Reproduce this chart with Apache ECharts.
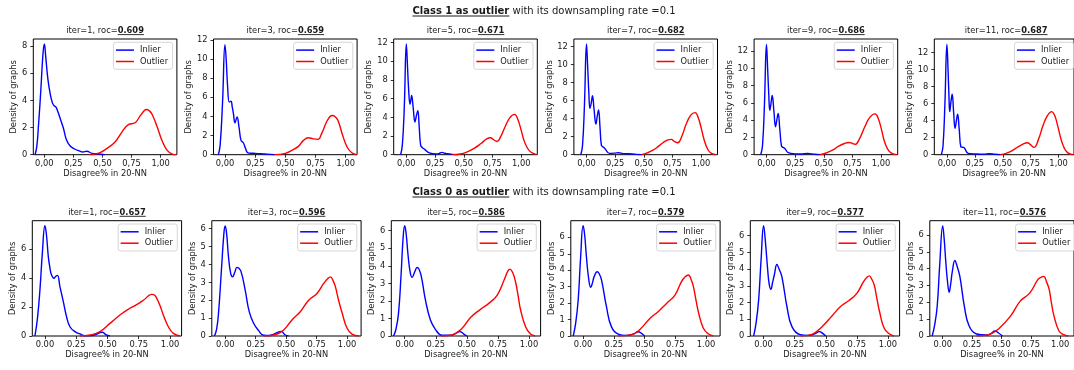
<!DOCTYPE html>
<html><head><meta charset="utf-8">
<script src="https://cdn.jsdelivr.net/npm/echarts@6/dist/echarts.min.js"></script>
<style>html,body{margin:0;padding:0;background:#fff}#c{width:1074px;height:370px}</style>
</head><body><div id="c"></div>
<script>
// ---------------- DATA ----------------
const iters = [1, 3, 5, 7, 9, 11];
const rocTop = ['0.609', '0.659', '0.671', '0.682', '0.686', '0.687'];
const rocBot = ['0.657', '0.596', '0.586', '0.579', '0.577', '0.576'];
const seriesNames = ['Inlier', 'Outlier'];
const xTicks = [0, 0.25, 0.5, 0.75, 1];
const yTicksTop = [[0,2,4,6,8],[0,2,4,6,8,10,12],[0,2,4,6,8,10,12],[0,2,4,6,8,10,12],[0,2,4,6,8,10,12],[0,2,4,6,8,10,12]];
const yTicksBot = [[0,2,4,6],[0,1,2,3,4,5,6],[0,1,2,3,4,5,6],[0,1,2,3,4,5,6],[0,1,2,3,4,5,6],[0,1,2,3,4,5,6]];
const xLimTop = [[-0.095,1.14],[-0.095,1.094],[-0.11,1.14],[-0.11,1.143],[-0.108,1.145],[-0.113,1.138]];
const xLimBot = [[-0.101,1.093],[-0.11,1.115],[-0.108,1.094],[-0.1,1.114],[-0.107,1.094],[-0.11,1.118]];
const yMaxTop = [8.52, 12.1, 12.39, 12.85, 13.4, 13.6];
const yMaxBot = [7.95, 6.45, 6.57, 7.01, 6.9, 6.85];

// Class 1 as outlier (top row)
const T1_in = [[-0.08,0],[-0.065,0.6],[-0.05,2.2],[-0.03,4.8],[-0.012,7.4],[0,8.15],[0.012,7.2],[0.03,5.6],[0.05,4.5],[0.07,3.8],[0.085,3.6],[0.1,3.5],[0.115,3.2],[0.135,2.7],[0.164,1.95],[0.19,1.1],[0.22,0.66],[0.26,0.42],[0.3,0.28],[0.33,0.2],[0.365,0.25],[0.41,0.1],[0.46,0.06],[0.52,0]];
const T1_out = [[0.39,0],[0.44,0.06],[0.48,0.15],[0.54,0.47],[0.61,0.96],[0.67,1.7],[0.72,2.2],[0.78,2.35],[0.82,2.8],[0.86,3.25],[0.88,3.33],[0.9,3.25],[0.925,3.0],[0.97,2.06],[1.01,1.08],[1.055,0.34],[1.1,0.05],[1.135,0]];
const T2_in = [[-0.055,0],[-0.04,1.0],[-0.02,5.5],[0,11.5],[0.01,10.0],[0.022,7.1],[0.036,5.5],[0.05,5.6],[0.06,5.0],[0.07,4.3],[0.083,3.33],[0.1,3.95],[0.116,2.9],[0.133,1.5],[0.152,1.25],[0.17,0.66],[0.19,0.2],[0.22,0.15],[0.25,0.14],[0.33,0.07],[0.41,0]];
const T2_out = [[0.41,0],[0.5,0.14],[0.55,0.42],[0.61,0.9],[0.65,1.5],[0.69,1.77],[0.73,1.66],[0.77,1.6],[0.8,2.2],[0.84,3.4],[0.87,4.0],[0.89,4.1],[0.91,4.0],[0.935,3.6],[0.97,2.2],[1.01,0.83],[1.05,0.2],[1.09,0]];
const T3_in = [[-0.05,0],[-0.035,1.0],[-0.018,5.0],[0,11.85],[0.01,9.5],[0.02,7.0],[0.032,5.4],[0.04,5.9],[0.046,6.35],[0.06,5.0],[0.075,3.5],[0.088,4.2],[0.1,4.7],[0.112,3.0],[0.125,1.0],[0.14,0.75],[0.16,0.57],[0.2,0.2],[0.26,0.07],[0.285,0.12],[0.31,0.25],[0.335,0.15],[0.36,0.1],[0.4,0.03],[0.45,0]];
const T3_out = [[0.4,0],[0.47,0.08],[0.52,0.25],[0.59,0.68],[0.65,1.2],[0.7,1.7],[0.733,1.82],[0.76,1.6],[0.79,1.42],[0.82,1.9],[0.86,3.0],[0.9,3.95],[0.942,4.32],[0.97,3.8],[1.0,2.6],[1.023,1.57],[1.05,0.8],[1.08,0.32],[1.133,0]];
const T4_in = [[-0.05,0],[-0.035,1.0],[-0.018,5.5],[0,12.3],[0.01,9.8],[0.02,7.0],[0.03,5.15],[0.042,5.8],[0.052,6.55],[0.066,5.0],[0.082,3.4],[0.094,4.3],[0.105,4.96],[0.118,3.0],[0.13,1.07],[0.145,0.85],[0.16,0.7],[0.2,0.15],[0.25,0.18],[0.28,0.22],[0.32,0.12],[0.37,0.1],[0.42,0.05],[0.48,0]];
const T4_out = [[0.48,0],[0.53,0.2],[0.58,0.5],[0.63,0.95],[0.68,1.45],[0.71,1.65],[0.738,1.7],[0.77,1.45],[0.796,1.33],[0.83,2.0],[0.87,3.4],[0.91,4.4],[0.948,4.67],[0.975,4.1],[1.0,3.0],[1.03,1.5],[1.06,0.55],[1.09,0.15],[1.13,0]];
const T5_in = [[-0.05,0],[-0.035,1.0],[-0.018,5.7],[0,12.77],[0.01,10.0],[0.02,7.0],[0.029,5.15],[0.04,6.0],[0.05,6.85],[0.065,5.0],[0.079,3.23],[0.09,4.0],[0.102,4.77],[0.116,3.0],[0.131,1.0],[0.145,0.85],[0.16,0.73],[0.19,0.23],[0.25,0.1],[0.3,0.08],[0.36,0.15],[0.42,0.05],[0.47,0]];
const T5_out = [[0.466,0],[0.52,0.2],[0.58,0.55],[0.63,1.0],[0.68,1.3],[0.72,1.42],[0.75,1.3],[0.773,1.2],[0.81,1.8],[0.86,3.3],[0.9,4.3],[0.948,4.73],[0.975,4.2],[1.0,3.1],[1.03,1.5],[1.06,0.6],[1.09,0.18],[1.137,0]];
const T6_in = [[-0.05,0],[-0.035,1.0],[-0.018,6.0],[0,13.0],[0.01,10.0],[0.018,7.0],[0.025,5.06],[0.036,6.2],[0.047,7.1],[0.06,5.0],[0.073,3.1],[0.085,4.0],[0.096,4.75],[0.11,3.0],[0.125,0.94],[0.14,0.88],[0.155,0.82],[0.19,0.16],[0.27,0.08],[0.33,0.06],[0.38,0.12],[0.43,0.05],[0.48,0]];
const T6_out = [[0.48,0],[0.53,0.15],[0.58,0.45],[0.64,0.94],[0.69,1.3],[0.72,1.41],[0.75,1.15],[0.78,0.86],[0.82,1.8],[0.86,3.4],[0.9,4.6],[0.939,5.06],[0.965,4.6],[0.99,3.5],[1.02,1.9],[1.05,0.8],[1.08,0.25],[1.13,0]];

// Class 0 as outlier (bottom row)
const B1_in = [[-0.08,0],[-0.06,1.2],[-0.04,3.17],[-0.02,5.8],[0,7.6],[0.012,7.0],[0.027,5.47],[0.04,4.7],[0.053,4.2],[0.072,3.98],[0.085,4.1],[0.1,4.18],[0.12,3.4],[0.147,2.37],[0.173,1.33],[0.2,0.64],[0.24,0.3],[0.28,0.14],[0.32,0.02],[0.36,0.02],[0.39,0.05],[0.42,0.15],[0.44,0.23],[0.46,0.26],[0.49,0.07],[0.52,0]];
const B1_out = [[0.28,0],[0.36,0.07],[0.44,0.3],[0.52,0.87],[0.6,1.45],[0.67,1.86],[0.73,2.14],[0.79,2.48],[0.853,2.87],[0.87,2.85],[0.89,2.67],[0.92,2.1],[0.947,1.45],[0.987,0.64],[1.027,0.18],[1.08,0]];
const B2_in = [[-0.088,0],[-0.07,0.4],[-0.055,1.27],[-0.03,3.8],[-0.01,5.8],[0,6.15],[0.012,5.7],[0.027,4.43],[0.045,3.5],[0.06,3.31],[0.078,3.55],[0.096,3.84],[0.11,3.8],[0.13,3.6],[0.164,2.57],[0.197,1.36],[0.233,0.71],[0.274,0.3],[0.315,0.04],[0.36,0.03],[0.383,0.06],[0.425,0.19],[0.46,0.26],[0.49,0.07],[0.52,0]];
const B2_out = [[0.315,0],[0.41,0.07],[0.48,0.34],[0.548,0.9],[0.616,1.36],[0.685,2.0],[0.753,2.38],[0.808,2.94],[0.84,3.2],[0.863,3.31],[0.885,3.1],[0.904,2.76],[0.93,2.0],[0.96,1.27],[1.0,0.43],[1.04,0.11],[1.1,0]];
const B3_in = [[-0.09,0],[-0.07,0.4],[-0.05,1.29],[-0.03,3.4],[-0.012,5.7],[0,6.28],[0.012,5.8],[0.027,4.6],[0.045,3.6],[0.06,3.34],[0.08,3.65],[0.1,3.9],[0.115,3.8],[0.134,3.38],[0.167,2.05],[0.207,0.91],[0.247,0.38],[0.3,0.04],[0.368,0.04],[0.41,0.15],[0.444,0.25],[0.476,0.11],[0.5,0]];
const B3_out = [[0.29,0],[0.38,0.06],[0.462,0.44],[0.53,1.06],[0.61,1.52],[0.677,1.86],[0.745,2.33],[0.8,3.19],[0.83,3.7],[0.847,3.81],[0.87,3.6],[0.892,3.09],[0.913,2.3],[0.933,1.48],[0.973,0.53],[1.013,0.11],[1.05,0]];
const B4_in = [[-0.08,0],[-0.06,0.8],[-0.04,2.19],[-0.02,4.8],[0,6.71],[0.012,6.2],[0.027,4.83],[0.045,3.5],[0.0625,2.96],[0.075,3.2],[0.09,3.61],[0.114,3.91],[0.13,3.8],[0.15,3.4],[0.19,1.78],[0.23,0.57],[0.285,0.12],[0.353,0.04],[0.41,0.12],[0.448,0.26],[0.475,0.16],[0.5,0]];
const B4_out = [[0.285,0],[0.394,0.08],[0.462,0.4],[0.543,1.07],[0.61,1.48],[0.68,1.99],[0.747,2.49],[0.8,3.31],[0.83,3.6],[0.856,3.71],[0.88,3.4],[0.897,3.0],[0.92,2.1],[0.94,1.38],[0.978,0.47],[1.02,0.12],[1.06,0]];
const B5_in = [[-0.08,0],[-0.06,0.8],[-0.04,2.15],[-0.02,4.6],[0,6.6],[0.015,5.6],[0.032,4.04],[0.045,3.1],[0.059,2.79],[0.072,3.2],[0.086,3.65],[0.107,4.28],[0.125,4.0],[0.147,3.55],[0.188,1.75],[0.228,0.56],[0.295,0.08],[0.362,0.04],[0.416,0.14],[0.448,0.26],[0.475,0.16],[0.5,0]];
const B5_out = [[0.295,0],[0.389,0.1],[0.47,0.56],[0.55,1.2],[0.617,1.75],[0.684,2.11],[0.75,2.55],[0.804,3.25],[0.83,3.5],[0.85,3.6],[0.87,3.4],[0.89,3.05],[0.91,2.3],[0.933,1.45],[0.97,0.46],[1.013,0.12],[1.05,0]];
const B6_in = [[-0.09,0],[-0.07,0.6],[-0.047,1.77],[-0.025,4.3],[0,6.54],[0.012,5.8],[0.027,4.33],[0.04,3.3],[0.055,2.6],[0.068,3.1],[0.082,3.84],[0.104,4.49],[0.12,4.2],[0.146,3.54],[0.184,1.77],[0.225,0.59],[0.288,0.12],[0.37,0.06],[0.41,0.14],[0.445,0.3],[0.475,0.18],[0.51,0]];
const B6_out = [[0.288,0],[0.4,0.1],[0.48,0.45],[0.577,1.18],[0.66,2.07],[0.742,2.56],[0.81,3.35],[0.84,3.5],[0.86,3.54],[0.885,3.2],[0.907,2.76],[0.925,2.0],[0.948,1.18],[0.99,0.3],[1.03,0.08],[1.07,0]];

const topInlier = [T1_in, T2_in, T3_in, T4_in, T5_in, T6_in];
const topOutlier = [T1_out, T2_out, T3_out, T4_out, T5_out, T6_out];
const botInlier = [B1_in, B2_in, B3_in, B4_in, B5_in, B6_in];
const botOutlier = [B1_out, B2_out, B3_out, B4_out, B5_out, B6_out];

// ---------------- LAYOUT / STYLE ----------------
const W = 1074;
const FONT = '"DejaVu Sans", sans-serif';
const FS = 8.3;
const TXT = '#1a1a1a';
const rows = [
  { left0: 33.3, step: 180.2, width: 143.6, top: 39, height: 115.7, titleY: 31, comma: true, nameGapY: [15,18.5,18.5,18.5,18.5,18.5],
    inl: topInlier, outl: topOutlier, xLim: xLimTop, yMax: yMaxTop, yTicks: yTicksTop, roc: rocTop },
  { left0: 32.3, step: 179.5, width: 149.3, top: 220.7, height: 115.3, titleY: 212.7, comma: false, nameGapY: [13.5,13.5,13.5,13.5,13.5,13.5],
    inl: botInlier, outl: botOutlier, xLim: xLimBot, yMax: yMaxBot, yTicks: yTicksBot, roc: rocBot }
];
const colors = ['#0000ff', '#ff0000'];

const mctx = document.createElement('canvas').getContext('2d');
function tw(t, font) { mctx.font = font; return mctx.measureText(t).width; }

const grid = [], xAxis = [], yAxis = [], series = [], legend = [], graphic = [];
let gi = 0;
rows.forEach((r, ri) => {
  for (let i = 0; i < 6; i++) {
    const left = r.left0 + r.step * i;
    const right = left + r.width;
    grid.push({ left: left, top: r.top, width: r.width, height: r.height, show: true, borderColor: '#000', borderWidth: 1, backgroundColor: 'transparent' });
    xAxis.push({
      gridIndex: gi, type: 'value', min: r.xLim[i][0], max: r.xLim[i][1], position: 'bottom',
      axisLine: { show: false, onZero: false }, splitLine: { show: false },
      axisTick: { show: true, inside: false, length: 3, lineStyle: { color: '#000', width: 0.8 }, customValues: xTicks },
      axisLabel: { customValues: xTicks, margin: 5, fontSize: FS, color: TXT, fontFamily: FONT,
        formatter: (v) => r.comma ? v.toFixed(2).replace('.', ',') : v.toFixed(2) },
      name: 'Disagree% in 20-NN', nameLocation: 'middle', nameGap: 15,
      nameTextStyle: { fontSize: FS, color: TXT, fontFamily: FONT }
    });
    yAxis.push({
      gridIndex: gi, type: 'value', min: 0, max: r.yMax[i], position: 'left',
      axisLine: { show: false, onZero: false }, splitLine: { show: false },
      axisTick: { show: true, inside: false, length: 3, lineStyle: { color: '#000', width: 0.8 }, customValues: r.yTicks[i] },
      axisLabel: { customValues: r.yTicks[i], margin: 6, fontSize: FS, color: TXT, fontFamily: FONT },
      name: 'Density of graphs', nameLocation: 'middle', nameGap: r.nameGapY[i],
      nameTextStyle: { fontSize: FS, color: TXT, fontFamily: FONT }
    });
    [r.inl[i], r.outl[i]].forEach((d, k) => {
      series.push({
        name: seriesNames[k], type: 'line', xAxisIndex: gi, yAxisIndex: gi, data: d,
        showSymbol: false, symbol: 'none', smooth: 0.45,
        lineStyle: { color: colors[k], width: 1.4 }, itemStyle: { color: colors[k] }, z: 3
      });
    });
    legend.push({
      data: seriesNames, orient: 'vertical', right: W - (right - 4.3), top: r.top + 3.3,
      icon: 'rect', itemWidth: 18, itemHeight: 1.5, itemGap: 3.4, selectedMode: false,
      padding: [3.8, 4.5, 3.8, 2.5], borderColor: '#cccccc', borderWidth: 0.8, borderRadius: 2.5,
      backgroundColor: 'rgba(255,255,255,0.85)',
      textStyle: { fontSize: FS, color: TXT, fontFamily: FONT, padding: [0, 0, 0, 1] }
    });
    // subplot title
    const nFont = FS + 'px ' + FONT, bFont = 'bold ' + FS + 'px ' + FONT;
    const nTxt = 'iter=' + iters[i] + ', roc=', bTxt = r.roc[i];
    const nw = tw(nTxt, nFont), bw = tw(bTxt, bFont);
    const cx = (left + right) / 2, sx = cx - (nw + bw) / 2;
    graphic.push({ type: 'text', x: sx, y: r.titleY, style: { text: nTxt, font: nFont, fill: TXT, textAlign: 'left', textVerticalAlign: 'middle' } });
    graphic.push({ type: 'text', x: sx + nw, y: r.titleY, style: { text: bTxt, font: bFont, fill: TXT, textAlign: 'left', textVerticalAlign: 'middle' } });
    graphic.push({ type: 'line', shape: { x1: sx + nw, y1: r.titleY + 3.6, x2: sx + nw + bw, y2: r.titleY + 3.6 }, style: { stroke: TXT, lineWidth: 0.9 } });
    gi++;
  }
});

// main titles
const mainTitles = [{ b: 'Class 1 as outlier', y: 11.7 }, { b: 'Class 0 as outlier', y: 192.7 }];
const restTxt = ' with its downsampling rate =0.1';
mainTitles.forEach(t => {
  const bF = 'bold 10px ' + FONT, nF = '10px ' + FONT;
  const bw = tw(t.b, bF), nw = tw(restTxt, nF);
  const sx = 544 - (bw + nw) / 2;
  graphic.push({ type: 'text', x: sx, y: t.y, style: { text: t.b, font: bF, fill: TXT, textAlign: 'left', textVerticalAlign: 'middle' } });
  graphic.push({ type: 'text', x: sx + bw, y: t.y, style: { text: restTxt, font: nF, fill: TXT, textAlign: 'left', textVerticalAlign: 'middle' } });
  graphic.push({ type: 'line', shape: { x1: sx, y1: t.y + 4.3, x2: sx + bw, y2: t.y + 4.3 }, style: { stroke: TXT, lineWidth: 1 } });
});

const chart = echarts.init(document.getElementById('c'), null, { renderer: 'canvas' });
chart.setOption({
  animation: false, backgroundColor: '#fff',
  grid, xAxis, yAxis, series, legend, graphic
});
</script>
</body></html>
